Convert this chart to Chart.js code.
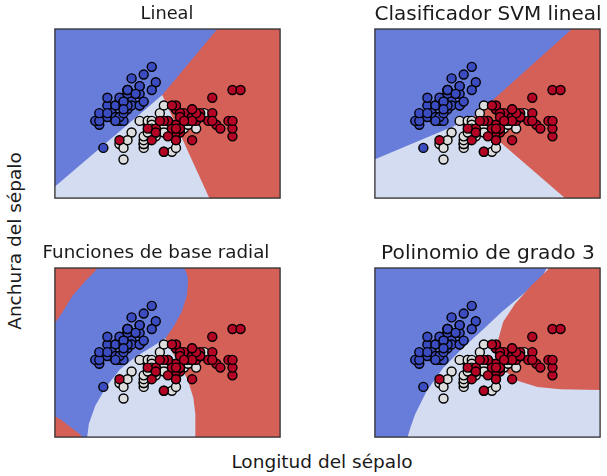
<!DOCTYPE html>
<html>
<head>
<meta charset="utf-8">
<script src="https://cdn.jsdelivr.net/npm/chart.js@4/dist/chart.umd.min.js"></script>
<style>
  html, body { margin: 0; padding: 0; background: #ffffff; }
  body { width: 607px; height: 476px; position: relative; overflow: hidden;
         font-family: "DejaVu Sans", sans-serif; color: #1a1a1a; }
  canvas { position: absolute; }
  .lbl { position: absolute; white-space: nowrap; line-height: 1; transform: translate(-50%,-50%); }
</style>
</head>
<body>
<canvas id="c0" width="237" height="204" style="left:49px;top:0px"></canvas>
<canvas id="c1" width="237" height="204" style="left:369px;top:0px"></canvas>
<canvas id="c2" width="237" height="204" style="left:49px;top:239px"></canvas>
<canvas id="c3" width="237" height="204" style="left:369px;top:239px"></canvas>
<div class="lbl" id="t0" style="left:167px;top:13px;font-size:17.8px">Lineal</div>
<div class="lbl" id="t1" style="left:488px;top:13px;font-size:20px">Clasificador SVM lineal</div>
<div class="lbl" id="t2" style="left:156px;top:252px;font-size:18.3px">Funciones de base radial</div>
<div class="lbl" id="t3" style="left:488px;top:252px;font-size:20.2px">Polinomio de grado 3</div>
<div class="lbl" id="ylab" style="left:15px;top:241px;font-size:18.5px;transform:translate(-50%,-50%) rotate(-90deg)">Anchura del sépalo</div>
<div class="lbl" id="xlab" style="left:322px;top:462px;font-size:18.5px">Longitud del sépalo</div>
<script>
// Iris samples: [sepal length, sepal width]
const setosa = [
  [5.1,3.5],[4.9,3.0],[4.7,3.2],[4.6,3.1],[5.0,3.6],[5.4,3.9],[4.6,3.4],[5.0,3.4],[4.4,2.9],[4.9,3.1],
  [5.4,3.7],[4.8,3.4],[4.8,3.0],[4.3,3.0],[5.8,4.0],[5.7,4.4],[5.4,3.9],[5.1,3.5],[5.7,3.8],[5.1,3.8],
  [5.4,3.4],[5.1,3.7],[4.6,3.6],[5.1,3.3],[4.8,3.4],[5.0,3.0],[5.0,3.4],[5.2,3.5],[5.2,3.4],[4.7,3.2],
  [4.8,3.1],[5.4,3.4],[5.2,4.1],[5.5,4.2],[4.9,3.1],[5.0,3.2],[5.5,3.5],[4.9,3.6],[4.4,3.0],[5.1,3.4],
  [5.0,3.5],[4.5,2.3],[4.4,3.2],[5.0,3.5],[5.1,3.8],[4.8,3.0],[5.1,3.8],[4.6,3.2],[5.3,3.7],[5.0,3.3]
];
const versicolor = [
  [7.0,3.2],[6.4,3.2],[6.9,3.1],[5.5,2.3],[6.5,2.8],[5.7,2.8],[6.3,3.3],[4.9,2.4],[6.6,2.9],[5.2,2.7],
  [5.0,2.0],[5.9,3.0],[6.0,2.2],[6.1,2.9],[5.6,2.9],[6.7,3.1],[5.6,3.0],[5.8,2.7],[6.2,2.2],[5.6,2.5],
  [5.9,3.2],[6.1,2.8],[6.3,2.5],[6.1,2.8],[6.4,2.9],[6.6,3.0],[6.8,2.8],[6.7,3.0],[6.0,2.9],[5.7,2.6],
  [5.5,2.4],[5.5,2.4],[5.8,2.7],[6.0,2.7],[5.4,3.0],[6.0,3.4],[6.7,3.1],[6.3,2.3],[5.6,3.0],[5.5,2.5],
  [5.5,2.6],[6.1,3.0],[5.8,2.6],[5.0,2.3],[5.6,2.7],[5.7,3.0],[5.7,2.9],[6.2,2.9],[5.1,2.5],[5.7,2.8]
];
const virginica = [
  [6.3,3.3],[5.8,2.7],[7.1,3.0],[6.3,2.9],[6.5,3.0],[7.6,3.0],[4.9,2.5],[7.3,2.9],[6.7,2.5],[7.2,3.6],
  [6.5,3.2],[6.4,2.7],[6.8,3.0],[5.7,2.5],[5.8,2.8],[6.4,3.2],[6.5,3.0],[7.7,3.8],[7.7,2.6],[6.0,2.2],
  [6.9,3.2],[5.6,2.8],[7.7,2.8],[6.3,2.7],[6.7,3.3],[7.2,3.2],[6.2,2.8],[6.1,3.0],[6.4,2.8],[7.2,3.0],
  [7.4,2.8],[7.9,3.8],[6.4,2.8],[6.3,2.8],[6.1,2.6],[7.7,3.0],[6.3,3.4],[6.4,3.1],[6.0,3.0],[6.9,3.1],
  [6.7,3.1],[6.9,3.1],[5.8,2.7],[6.8,3.2],[6.7,3.3],[6.7,3.0],[6.3,2.5],[6.5,3.0],[6.2,3.4],[5.9,3.0]
];

// Plot window (sepal length, sepal width)
const xRange = [3.3, 8.88];
const yRange = [1.0, 5.38];

// Decision regions, outlined in data units; later layers are painted over earlier ones
const fullArea = [[3.2,0.9],[9.0,0.9],[9.0,5.5],[3.2,5.5]];

const linealLight = [[5.96,3.67],[7.17,0.9],[3.2,0.9],[3.2,3.0]];
const linealBlue  = [[3.2,5.5],[7.42,5.5],[5.96,3.67],[3.2,1.21]];

const svmLight = [[5.72,3.07],[8.12,0.9],[3.2,0.9],[3.2,2.8]];
const svmBlue  = [[3.2,5.5],[8.31,5.5],[5.72,3.07],[3.2,1.96]];

const rbfLight = [[6.04,3.56],[6.20,3.22],[6.40,2.88],[6.60,2.45],[6.73,2.02],[6.78,1.60],[6.78,0.9],
                  [4.03,0.9],[4.0,1.3],[4.2,1.9],[4.5,2.4],[5.5,3.5],[6.0,3.9]];
const rbfBlue  = [[4.42,5.5],[6.46,5.5],[6.58,5.2],[6.60,5.01],[6.57,4.67],[6.44,4.24],[6.24,3.86],[6.04,3.56],
                  [5.68,3.32],[5.31,3.09],[4.91,2.75],[4.58,2.32],[4.30,1.81],[4.14,1.34],[4.10,1.0],[4.09,0.9],
                  [3.93,0.9],[3.95,1.05],[3.70,1.25],[3.45,1.45],[3.2,1.6],[3.2,3.8],[3.49,4.24],[3.74,4.67],
                  [4.06,5.05],[4.3,5.3]];

const polyBlue = [[3.2,5.5],[7.62,5.5],[7.41,5.09],[6.93,4.67],[6.44,4.24],[5.96,3.77],[5.47,3.30],
                  [4.99,2.79],[4.58,2.19],[4.30,1.60],[4.18,1.25],[4.08,0.9],[3.2,0.9]];
const polyRed  = [[7.74,5.5],[9.0,5.5],[9.0,2.22],[7.90,2.24],[7.33,2.30],[6.85,2.45],[6.52,2.71],[6.36,3.09],
                  [6.35,3.51],[6.48,3.99],[6.77,4.45],[7.17,4.92],[7.50,5.25]];

const REGION_BLUE  = "rgb(104,124,218)";
const REGION_LIGHT = "rgb(211,220,241)";
const REGION_RED   = "rgb(212,96,88)";
const POINT_COLORS = ["#3b4cc0", "#dddddd", "#b40426"];

const toXY = arr => arr.map(([x, y]) => ({x, y}));

function regionSet(poly, color, order) {
  return {
    type: "scatter",
    data: toXY(poly),
    showLine: true,
    fill: "shape",
    backgroundColor: color,
    borderColor: color,
    borderWidth: 0,
    pointRadius: 0,
    pointHoverRadius: 0,
    tension: 0,
    order: order,
    clip: 0
  };
}

function pointSet(arr, color, order) {
  return {
    type: "scatter",
    data: toXY(arr),
    showLine: false,
    backgroundColor: color,
    borderColor: "#000000",
    pointBorderWidth: 1.4,
    pointRadius: 4.5,
    pointHoverRadius: 4.5,
    order: order,
    clip: false
  };
}

const frame = {
  id: "frame",
  afterDraw(chart) {
    const {ctx, chartArea: a} = chart;
    ctx.save();
    ctx.strokeStyle = "#2e2e2e";
    ctx.lineWidth = 1.3;
    ctx.strokeRect(a.left, a.top, a.right - a.left, a.bottom - a.top);
    ctx.restore();
  }
};

const layers = [
  [[fullArea, REGION_RED], [linealLight, REGION_LIGHT], [linealBlue, REGION_BLUE]],
  [[fullArea, REGION_RED], [svmLight, REGION_LIGHT], [svmBlue, REGION_BLUE]],
  [[fullArea, REGION_RED], [rbfLight, REGION_LIGHT], [rbfBlue, REGION_BLUE]],
  [[fullArea, REGION_LIGHT], [polyBlue, REGION_BLUE], [polyRed, REGION_RED]]
];

layers.forEach((stack, i) => {
  const datasets = [
    pointSet(virginica, POINT_COLORS[2], 1),
    pointSet(versicolor, POINT_COLORS[1], 2),
    pointSet(setosa, POINT_COLORS[0], 3)
  ];
  stack.forEach(([poly, color], k) => {
    datasets.push(regionSet(poly, color, 10 - k));
  });
  new Chart(document.getElementById("c" + i), {
    type: "scatter",
    data: {datasets},
    options: {
      responsive: false,
      animation: false,
      devicePixelRatio: 1,
      events: [],
      layout: {padding: {left: 3, right: 3, top: 29, bottom: 3}},
      scales: {
        x: {type: "linear", min: xRange[0], max: xRange[1], display: false},
        y: {type: "linear", min: yRange[0], max: yRange[1], display: false}
      },
      plugins: {
        legend: {display: false},
        tooltip: {enabled: false},
        title: {display: false}
      }
    },
    plugins: [frame]
  });
});
</script>
</body>
</html>
